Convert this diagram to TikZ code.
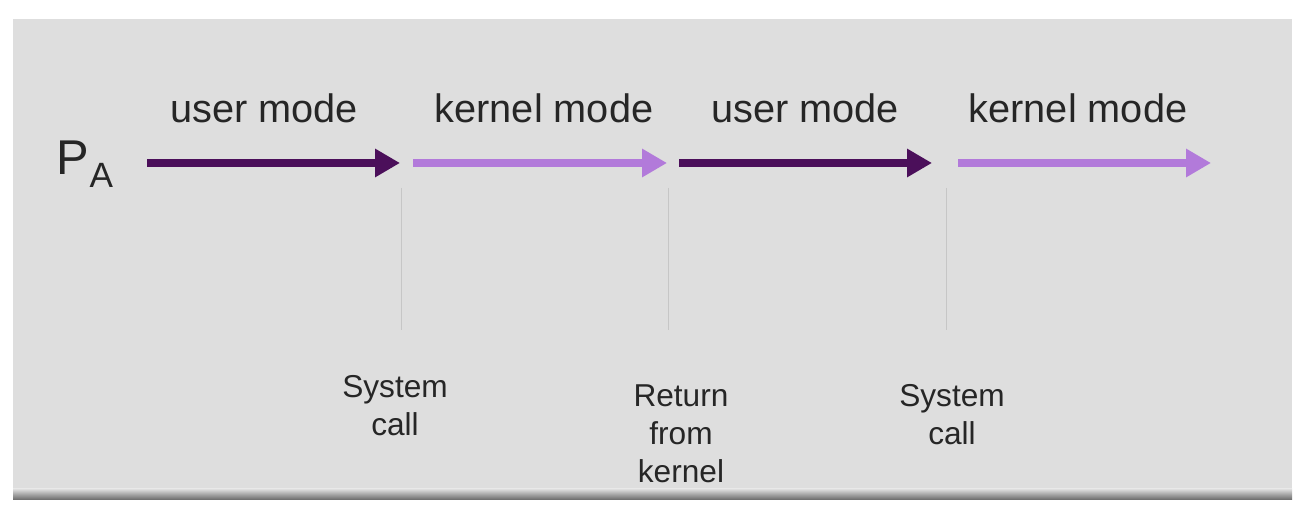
\documentclass[tikz,border=0pt]{standalone}
\usepackage{fontspec}
\setmainfont{Liberation Sans}
\usetikzlibrary{arrows.meta}
\definecolor{slidegray}{HTML}{DEDEDE}
\definecolor{usercol}{HTML}{4B0F5A}
\definecolor{kernelcol}{HTML}{B27ADA}
\definecolor{textcol}{HTML}{262626}
\tikzset{
  modearrow/.style={line width=2.1pt,-{Triangle[length=0.25cm,width=0.27cm]}},
  usermode/.style={modearrow,usercol},
  kernelmode/.style={modearrow,kernelcol},
  modelabel/.style={font=\fontsize{11.3}{13}\selectfont,text=textcol},
  eventlabel/.style={font=\fontsize{9}{10.8}\selectfont,text=textcol,align=center},
  eventline/.style={very thin,gray!45}
}
\begin{document}
\begin{tikzpicture}
\useasboundingbox (0,0) rectangle (12.98,5.14);
%background
\fill[slidegray] (0.13,0.22) rectangle (12.92,4.95);
\shade[top color=slidegray,bottom color=gray!80!black] (0.13,0.14) rectangle (12.92,0.25);
%process
\node[text=textcol,inner sep=0pt] (pa) at (0.85,3.50) {\fontsize{13.9}{16}\selectfont P\raisebox{-3.7pt}{\fontsize{10}{12}\selectfont A}};
%arrows
\coordinate (u1s) at (1.47,3.51); \coordinate (u1e) at (4.00,3.51);
\coordinate (k1s) at (4.13,3.51); \coordinate (k1e) at (6.67,3.51);
\coordinate (u2s) at (6.79,3.51); \coordinate (u2e) at (9.32,3.51);
\coordinate (k2s) at (9.58,3.51); \coordinate (k2e) at (12.11,3.51);
\draw[usermode] (u1s)--(u1e);
\draw[kernelmode] (k1s)--(k1e);
\draw[usermode] (u2s)--(u2e);
\draw[kernelmode] (k2s)--(k2e);
%mode labels
\node[modelabel] (user1) at (2.64,4.06) {user mode};
\node[modelabel] (kern1) at (5.44,4.06) {kernel mode};
\node[modelabel] (user2) at (8.05,4.06) {user mode};
\node[modelabel] (kern2) at (10.78,4.06) {kernel mode};
%event markers
\coordinate (m1t) at (4.01,3.26); \coordinate (m1b) at (4.01,1.84);
\coordinate (m2t) at (6.68,3.26); \coordinate (m2b) at (6.68,1.84);
\coordinate (m3t) at (9.46,3.26); \coordinate (m3b) at (9.46,1.84);
\draw[eventline] (m1t)--(m1b);
\draw[eventline] (m2t)--(m2b);
\draw[eventline] (m3t)--(m3b);
%event labels
\node[eventlabel] (sys1) at (3.95,1.08) {System\\call};
\node[eventlabel] (ret) at (6.81,0.80) {Return\\from\\kernel};
\node[eventlabel] (sys2) at (9.52,0.99) {System\\call};
\end{tikzpicture}
\end{document}
